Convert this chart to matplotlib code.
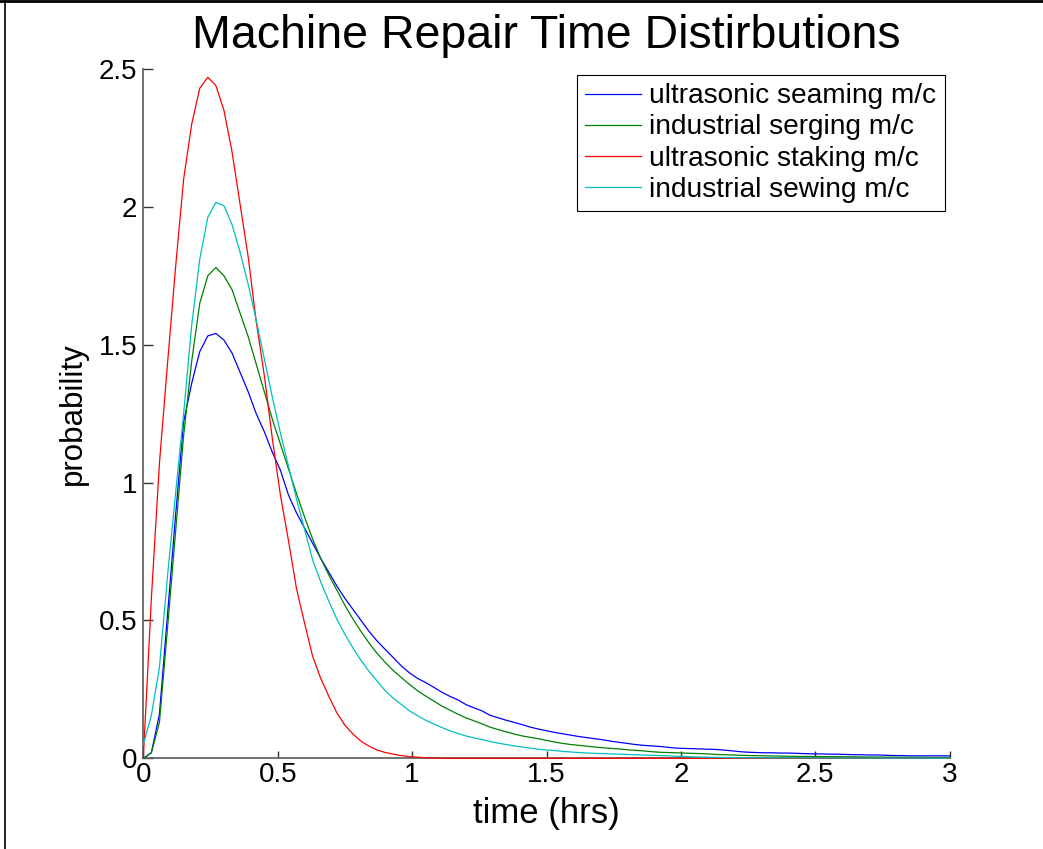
import numpy as np
import matplotlib
matplotlib.use("Agg")
from matplotlib import pyplot as plt
from matplotlib.lines import Line2D
from matplotlib.ticker import FuncFormatter

plt.rcParams['font.family'] = ['Liberation Sans', 'DejaVu Sans']

# time grid (hrs), sampled every 0.03 hr from 0 to 3
time_hrs = np.linspace(0, 3, 101)

# values
seaming = [
    0.0, 0.02, 0.16, 0.52, 0.88, 1.22, 1.36, 1.475, 1.532, 1.541,
    1.517, 1.47, 1.40, 1.33, 1.25, 1.185, 1.11, 1.045, 0.955, 0.89,
    0.835, 0.78, 0.725, 0.675, 0.625, 0.58, 0.54, 0.50, 0.46, 0.425,
    0.395, 0.365, 0.335, 0.31, 0.29, 0.275, 0.258, 0.24, 0.225, 0.212,
    0.195, 0.183, 0.172, 0.156, 0.147, 0.138, 0.13, 0.122, 0.113, 0.106,
    0.10, 0.094, 0.089, 0.084, 0.079, 0.075, 0.071, 0.067, 0.062, 0.058,
    0.054, 0.050, 0.047, 0.045, 0.043, 0.040, 0.037, 0.036, 0.035, 0.034,
    0.033, 0.032, 0.030, 0.027, 0.024, 0.022, 0.021, 0.020, 0.020, 0.019,
    0.019, 0.018, 0.017, 0.016, 0.016, 0.015, 0.015, 0.014, 0.013, 0.013,
    0.012, 0.012, 0.011, 0.010, 0.010, 0.009, 0.009, 0.009, 0.009, 0.009,
    0.009,
]
serging = [
    0.0, 0.02, 0.13, 0.47, 0.82, 1.17, 1.44, 1.65, 1.75, 1.78,
    1.75, 1.70, 1.615, 1.53, 1.43, 1.33, 1.23, 1.14, 1.05, 0.96,
    0.875, 0.795, 0.725, 0.665, 0.61, 0.555, 0.505, 0.46, 0.418, 0.38,
    0.348, 0.318, 0.293, 0.268, 0.245, 0.226, 0.208, 0.19, 0.175, 0.16,
    0.147, 0.136, 0.125, 0.113, 0.104, 0.096, 0.088, 0.081, 0.076, 0.071,
    0.065, 0.059, 0.054, 0.050, 0.047, 0.044, 0.041, 0.038, 0.036, 0.034,
    0.031, 0.029, 0.027, 0.024, 0.022, 0.021, 0.020, 0.019, 0.018, 0.017,
    0.016, 0.014, 0.013, 0.012, 0.011, 0.010, 0.0095, 0.009, 0.0085, 0.008,
    0.0075, 0.007, 0.0068, 0.0065, 0.0062, 0.006, 0.0057, 0.0055, 0.0052, 0.005,
    0.0047, 0.0045, 0.0042, 0.004, 0.0038, 0.0036, 0.0034, 0.0033, 0.0032, 0.0031,
    0.003,
]
staking = [
    0.0, 0.58, 1.07, 1.43, 1.78, 2.10, 2.30, 2.43, 2.47, 2.44,
    2.35, 2.20, 2.01, 1.82, 1.585, 1.39, 1.16, 0.955, 0.79, 0.615,
    0.49, 0.37, 0.29, 0.225, 0.165, 0.12, 0.088, 0.062, 0.044, 0.03,
    0.021, 0.015, 0.010, 0.006, 0.004, 0.002, 0.001, 0.0, 0.0, 0.0,
    0.0, 0.0, 0.0, 0.0, 0.0, 0.0, 0.0, 0.0, 0.0, 0.0,
    0.0, 0.0, 0.0, 0.0, 0.0, 0.0, 0.0, 0.0, 0.0, 0.0,
    0.0, 0.0, 0.0, 0.0, 0.0, 0.0, 0.0, 0.0, 0.0, 0.0,
    0.0, 0.0, 0.0, 0.0, 0.0, 0.0, 0.0, 0.0, 0.0, 0.0,
    0.0, 0.0, 0.0, 0.0, 0.0, 0.0, 0.0, 0.0, 0.0, 0.0,
    0.0, 0.0, 0.0, 0.0, 0.0, 0.0, 0.0, 0.0, 0.0, 0.0,
    0.0,
]
sewing = [
    0.05, 0.155, 0.33, 0.66, 0.96, 1.25, 1.57, 1.81, 1.962, 2.016,
    2.004, 1.936, 1.836, 1.72, 1.59, 1.45, 1.31, 1.18, 1.06, 0.94,
    0.83, 0.72, 0.64, 0.57, 0.505, 0.45, 0.40, 0.355, 0.315, 0.28,
    0.245, 0.218, 0.195, 0.172, 0.155, 0.138, 0.125, 0.112, 0.10, 0.09,
    0.081, 0.074, 0.068, 0.061, 0.055, 0.050, 0.045, 0.041, 0.037, 0.033,
    0.030, 0.028, 0.025, 0.023, 0.021, 0.019, 0.018, 0.017, 0.016, 0.015,
    0.014, 0.013, 0.012, 0.011, 0.010, 0.009, 0.0075, 0.0065, 0.0055, 0.0045,
    0.004, 0.0035, 0.003, 0.0025, 0.002, 0.0019, 0.0018, 0.0017, 0.0016, 0.0015,
    0.0014, 0.0013, 0.0012, 0.0011, 0.001, 0.001, 0.0009, 0.0009, 0.0008, 0.0008,
    0.0007, 0.0007, 0.0006, 0.0006, 0.0006, 0.0005, 0.0005, 0.0005, 0.0004, 0.0004,
    0.0004,
]

labels = ["ultrasonic seaming m/c", "industrial serging m/c",
          "ultrasonic staking m/c", "industrial sewing m/c"]
colors = ["#0000ff", "#008000", "#ff0000", "#00bfbf"]
x_ticks = [0, 0.5, 1, 1.5, 2, 2.5, 3]
y_ticks = [0, 0.5, 1, 1.5, 2, 2.5]

W, H = 1043, 849
fig = plt.figure(figsize=(W / 100, H / 100), dpi=100)
left, right, bottom, top = 143.3, 949.7, 758.3, 69
ax = fig.add_axes([left / W, 1 - bottom / H, (right - left) / W, (bottom - top) / H])

for series, label, color in zip([seaming, serging, staking, sewing], labels, colors):
    ax.plot(time_hrs, series, color=color, lw=0.9, label=label, clip_on=False, zorder=3)

ax.set_xlim(0, 3)
ax.set_ylim(0, 2.5)
ax.set_xticks(x_ticks)
ax.set_yticks(y_ticks)
fmt = FuncFormatter(lambda v, _: f"{v:g}")
ax.xaxis.set_major_formatter(fmt)
ax.yaxis.set_major_formatter(fmt)

for side in ("top", "right"):
    ax.spines[side].set_visible(False)
for side in ("left", "bottom"):
    ax.spines[side].set_color("#666666")
    ax.spines[side].set_linewidth(1.3)

ax.tick_params(axis="y", direction="in", length=7, width=1, color="#333333",
               labelsize=20, pad=4.5)
ax.tick_params(axis="x", direction="in", length=5, width=1, color="#333333",
               labelsize=20, pad=3)

# labels and title
fig.text((left + right) / 2 / W, 1 - 48 / H, "Machine Repair Time Distirbutions",
         ha="center", va="baseline", fontsize=33.5)
ax.set_xlabel("time (hrs)", fontsize=25)
ax.xaxis.label.set_va("baseline")
ax.xaxis.set_label_coords(0.5, (bottom - 823) / (bottom - top))
ax.set_ylabel("probability", fontsize=22.5)
ax.yaxis.label.set_va("baseline")
ax.yaxis.set_label_coords((81 - left) / (right - left), 0.5)

leg = ax.legend(loc="upper right", bbox_to_anchor=(945 / W, 1 - 75 / H),
                bbox_transform=fig.transFigure, fontsize=20.2, frameon=True,
                fancybox=False, framealpha=1, edgecolor="black",
                handlelength=2.0, handletextpad=0.3, borderpad=0.3,
                labelspacing=0.18, borderaxespad=0)
leg.get_frame().set_linewidth(0.8)

# outer frame of the original window capture
fig.add_artist(Line2D([5 / W, 5 / W], [0, 1], color="black", lw=1.2))
fig.add_artist(Line2D([0, 1], [1 - 1 / H, 1 - 1 / H], color="black", lw=2))

plt.savefig("out.png", dpi=100)
plt.close()
